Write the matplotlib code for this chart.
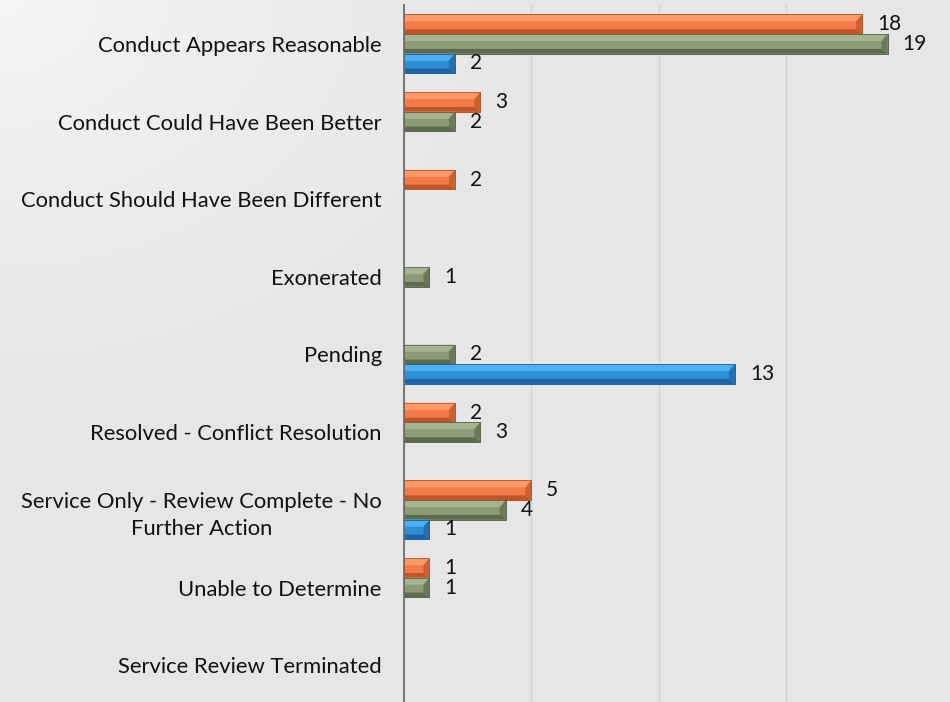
import matplotlib
matplotlib.use('Agg')
import matplotlib.pyplot as plt
from matplotlib.patches import Polygon
import numpy as np

plt.rcParams['font.family'] = ['Lato', 'DejaVu Sans']

# ─── Data ──────────────────────────────────────────────────────────────────
categories = [
    'Conduct Appears Reasonable',
    'Conduct Could Have Been Better',
    'Conduct Should Have Been Different',
    'Exonerated',
    'Pending',
    'Resolved - Conflict Resolution',
    'Service Only - Review Complete - No\nFurther Action',
    'Unable to Determine',
    'Service Review Terminated',
]
orange_vals = [18, 3, 2, 0, 0, 2, 5, 1, 0]
green_vals = [19, 2, 0, 1, 2, 3, 4, 1, 0]
blue_vals = [2, 0, 0, 0, 13, 0, 1, 0, 0]

# (mid, light, dark) per series
C_ORANGE = ('#f27b47', '#ff9a68', '#bf5428')
C_GREEN = ('#8c9a76', '#a6b390', '#5e6a4e')
C_BLUE = ('#2f8fd6', '#4ab2f2', '#1f64a6')

W, H = 950, 702
fig = plt.figure(figsize=(W / 100, H / 100), dpi=100)

# background gradient, lighter in the top-left corner
bg = fig.add_axes([0, 0, 1, 1])
yy, xx = np.mgrid[0:H, 0:W]
d = np.clip(np.hypot(xx / 560.0, yy / 420.0), 0, 1)
lo, hi = np.array([0xf6, 0xf6, 0xf6]) / 255, np.array([0xe6, 0xe6, 0xe6]) / 255
img = lo + (hi - lo) * d[..., None] ** 0.8
bg.imshow(img, aspect='auto', extent=[0, 1, 0, 1])
bg.axis('off')

ax = fig.add_axes([404 / W, -2 / H, (913 - 404) / W, 699 / H])
ax.patch.set_alpha(0)

y = np.arange(len(categories))
h = 0.252
px_per_unit = (913 - 404) / 20.0
dx = 6 / px_per_unit


def bevel_bars(vals, offset, cols):
    mid, light, dark = cols
    bars = ax.barh(y + offset, vals, height=h, color=mid, edgecolor=dark,
                   linewidth=0.6, zorder=3)
    for rect, v in zip(bars, vals):
        if v <= 0:
            rect.set_visible(False)
            continue
        x0, x1 = rect.get_x(), rect.get_x() + rect.get_width()
        yt, yb = rect.get_y(), rect.get_y() + rect.get_height()
        dyt = 0.36 * h
        dyb = 0.24 * h
        ddx = min(dx, (x1 - x0) * 0.35)
        # top face (light)
        ax.add_patch(Polygon([(x0, yt), (x1, yt), (x1 - ddx, yt + dyt), (x0, yt + dyt)],
                             closed=True, fc=light, ec='none', zorder=4))
        # bottom face (dark)
        ax.add_patch(Polygon([(x0, yb), (x1, yb), (x1 - ddx, yb - dyb), (x0, yb - dyb)],
                             closed=True, fc=dark, ec='none', zorder=4))
        # right face
        ax.add_patch(Polygon([(x1, yt), (x1, yb), (x1 - ddx, yb - dyb), (x1 - ddx, yt + dyt)],
                             closed=True, fc=dark, ec='none', alpha=0.7, zorder=4))
        ax.add_patch(Polygon([(x0, yt), (x1, yt), (x1, yb), (x0, yb)], closed=True,
                             fc='none', ec=dark, lw=0.6, zorder=5))
        ax.annotate(str(v), xy=(x1, (yt + yb) / 2), xytext=(15, 0),
                    textcoords='offset pixels', ha='left', va='center',
                    fontsize=15, color='#111111', annotation_clip=False, zorder=6)


bevel_bars(orange_vals, -h, C_ORANGE)
bevel_bars(green_vals, 0, C_GREEN)
bevel_bars(blue_vals, h, C_BLUE)

ax.set_xlim(0, 20)
ax.set_ylim(len(categories) - 0.5, -0.5)
ax.set_xticks([0, 5, 10, 15, 20])
ax.xaxis.grid(True, color='#d3d3d3', lw=1.0, zorder=0)
ax.set_axisbelow(True)
ax.tick_params(axis='x', bottom=False, labelbottom=False)
ax.set_yticks(y)
ax.set_yticklabels(categories, fontsize=15.8, color='#111111', multialignment='center',
                   linespacing=1.45)
ax.tick_params(axis='y', length=0, pad=16)
for s in ['top', 'right', 'bottom']:
    ax.spines[s].set_visible(False)
ax.spines['left'].set_color('#6e6e6e')
ax.spines['left'].set_linewidth(1.3)
ax.spines['left'].set_zorder(7)

fig.savefig('out.png', dpi=100)
